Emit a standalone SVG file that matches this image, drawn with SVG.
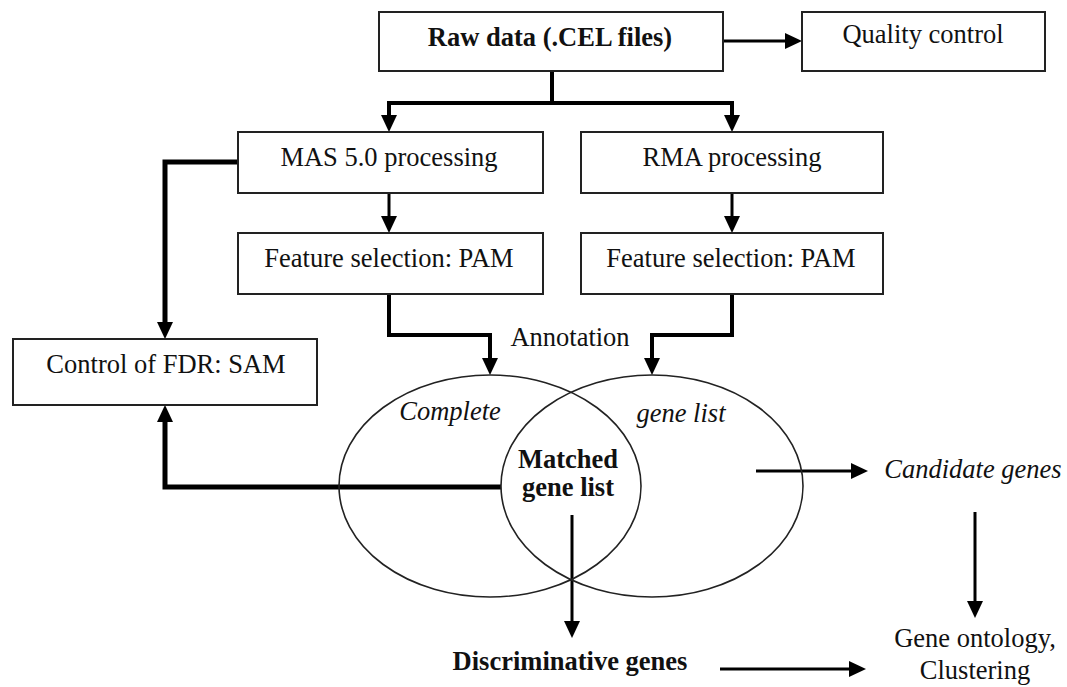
<svg xmlns="http://www.w3.org/2000/svg" width="1067" height="687" viewBox="0 0 1067 687">
<style>
.box{fill:#fff;stroke:#222;stroke-width:2}
.ell{fill:none;stroke:#222;stroke-width:1.6}
.t{font-family:"Liberation Serif","Times New Roman",serif;font-size:26.5px;fill:#111;text-anchor:middle}
.b{font-weight:bold}
.i{font-style:italic}
.c{fill:none;stroke:#000;stroke-linejoin:miter}
.w3{stroke-width:3}
.w4{stroke-width:4}
.w5{stroke-width:5}
</style>
<defs>
<marker id="ah" markerUnits="userSpaceOnUse" markerWidth="17" markerHeight="16" refX="7" refY="8" orient="auto">
<path d="M0,0 L17,8 L0,16 z" fill="#000"/>
</marker>
</defs>
<rect width="1067" height="687" fill="#fff"/>
<g id="connectors">
<path class="c w3" d="M723,41 H792" marker-end="url(#ah)"/>
<path class="c w4" d="M552,71 V103"/>
<path class="c w4" d="M552,103 H389 V122" marker-end="url(#ah)"/>
<path class="c w4" d="M552,103 H732 V122" marker-end="url(#ah)"/>
<path class="c w3" d="M389,193 V223" marker-end="url(#ah)"/>
<path class="c w3" d="M732,193 V223" marker-end="url(#ah)"/>
<path class="c w5" d="M238,162 H165 V329" marker-end="url(#ah)"/>
<path class="c w4" d="M389,294 V335 H490 V365" marker-end="url(#ah)"/>
<path class="c w4" d="M732,294 V335 H652 V365" marker-end="url(#ah)"/>
<path class="c w5" d="M501,487 H165 V415" marker-end="url(#ah)"/>
<path class="c w3" d="M756,471 H858" marker-end="url(#ah)"/>
<path class="c w3" d="M975,512 V608" marker-end="url(#ah)"/>
<path class="c w3" d="M572,515 V628" marker-end="url(#ah)"/>
<path class="c w3" d="M720,669 H856" marker-end="url(#ah)"/>
</g>
<g id="raw"><rect class="box" x="379" y="12" width="344" height="59"/><text class="t b" x="550" y="46">Raw data (.CEL files)</text></g>
<g id="qc"><rect class="box" x="802" y="12" width="243" height="59"/><text class="t" x="923" y="43">Quality control</text></g>
<g id="mas"><rect class="box" x="238" y="132" width="305" height="61"/><text class="t" x="389" y="166">MAS 5.0 processing</text></g>
<g id="rma"><rect class="box" x="581" y="132" width="302" height="61"/><text class="t" x="732" y="166">RMA processing</text></g>
<g id="featL"><rect class="box" x="238" y="233" width="305" height="61"/><text class="t" x="389" y="267">Feature selection: PAM</text></g>
<g id="featR"><rect class="box" x="581" y="233" width="302" height="61"/><text class="t" x="731" y="267">Feature selection: PAM</text></g>
<g id="control"><rect class="box" x="13" y="339" width="304" height="66"/><text class="t" x="166" y="373">Control of FDR: SAM</text></g>
<g id="annotation"><text class="t" x="570" y="346">Annotation</text></g>
<g id="venn">
<ellipse class="ell" cx="490" cy="486" rx="151" ry="111"/>
<ellipse class="ell" cx="652" cy="486" rx="151" ry="111"/>
<text class="t i" x="450" y="420">Complete</text>
<text class="t i" x="681" y="422">gene list</text>
</g>
<g id="matched"><text class="t b" x="568" y="468">Matched</text><text class="t b" x="568" y="496">gene list</text></g>
<g id="candidate"><text class="t i" x="973" y="478">Candidate genes</text></g>
<g id="discriminative"><text class="t b" x="570" y="670">Discriminative genes</text></g>
<g id="ontology"><text class="t" x="975" y="647">Gene ontology,</text><text class="t" x="975" y="679">Clustering</text></g>
</svg>
